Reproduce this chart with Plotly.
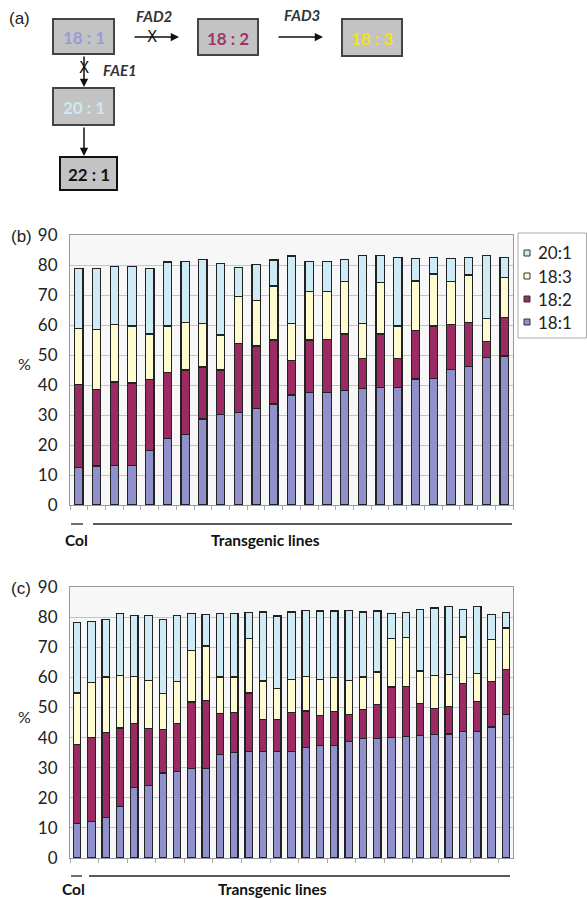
import plotly.graph_objects as go

W, H = 587, 900

# ---------------- data ----------------
series_names = ["18:1", "18:2", "18:3", "20:1"]
series_colors = ["#9090cb", "#9b2b62", "#fdfbcf", "#cdeaf5"]

lines_b = [str(i) for i in range(1, 26)]
b_181 = [12.4, 13.0, 13.3, 13.3, 18.3, 22.2, 23.6, 28.7, 30.2, 30.8, 32.1, 33.7, 36.7,
         37.6, 37.6, 38.1, 38.8, 39.1, 39.1, 42.0, 42.2, 45.3, 46.1, 49.1, 49.7]
b_182 = [27.8, 25.6, 27.7, 27.4, 23.6, 21.9, 21.4, 17.3, 14.8, 23.1, 20.9, 21.3, 11.4,
         17.4, 17.7, 18.9, 10.1, 17.9, 9.8, 16.3, 17.5, 15.0, 14.8, 5.3, 12.7]
b_183 = [18.7, 20.0, 19.2, 19.0, 15.1, 15.6, 15.9, 14.6, 11.7, 15.5, 15.3, 18.0, 12.5,
         16.3, 16.0, 17.4, 11.7, 17.1, 10.8, 16.4, 17.3, 14.1, 15.8, 7.7, 13.5]
b_201 = [20.0, 20.3, 19.2, 19.7, 21.9, 21.3, 20.4, 21.3, 23.9, 9.8, 11.9, 8.7, 22.4,
         10.0, 10.0, 7.5, 22.6, 9.1, 22.9, 7.4, 5.6, 7.7, 5.9, 21.2, 6.7]

lines_c = [str(i) for i in range(1, 32)]
c_181 = [11.5, 12.1, 13.5, 17.2, 23.3, 24.1, 28.2, 28.8, 29.6, 29.6, 34.4, 35.1, 35.5,
         35.5, 35.5, 35.5, 36.8, 37.4, 37.4, 38.8, 39.8, 39.8, 40.1, 40.4, 40.7, 41.0,
         41.2, 42.1, 42.1, 43.5, 47.7]
c_182 = [26.1, 27.8, 28.1, 26.0, 21.5, 18.8, 14.4, 15.8, 22.2, 22.7, 13.7, 13.1, 19.3,
         10.4, 10.4, 12.7, 12.0, 9.9, 11.3, 8.9, 9.4, 11.2, 16.7, 16.6, 10.7, 8.6,
         9.1, 15.8, 10.0, 15.1, 14.9]
c_183 = [17.2, 18.5, 18.5, 17.4, 15.6, 16.1, 11.9, 14.0, 17.2, 18.1, 12.0, 11.9, 18.0,
         12.9, 10.3, 11.2, 11.6, 12.0, 11.2, 11.3, 10.9, 10.8, 16.0, 16.1, 10.7, 11.0,
         10.7, 15.5, 9.3, 13.9, 13.8]
c_201 = [23.4, 20.2, 19.1, 20.6, 20.2, 21.6, 24.7, 22.0, 12.2, 10.5, 21.1, 21.1, 8.7,
         22.9, 24.2, 22.3, 21.9, 22.7, 22.1, 23.3, 21.6, 20.2, 8.4, 8.4, 20.5, 22.4,
         22.4, 9.1, 22.0, 8.3, 5.1]

y_ticks = [0, 10, 20, 30, 40, 50, 60, 70, 80, 90]

FONT = "Lato"


def px(x):
    return x / W


def py(y):
    return 1 - y / H


fig = go.Figure()

for name, color, vals in zip(series_names, series_colors, [b_181, b_182, b_183, b_201]):
    fig.add_trace(go.Bar(x=lines_b, y=vals, name=name, marker_color=color,
                         marker_line=dict(color="#222222", width=1.2), width=0.47,
                         xaxis="x", yaxis="y", showlegend=False))
for name, color, vals in zip(series_names, series_colors, [c_181, c_182, c_183, c_201]):
    fig.add_trace(go.Bar(x=lines_c, y=vals, name=name, marker_color=color,
                         marker_line=dict(color="#222222", width=1.2), width=0.52,
                         xaxis="x2", yaxis="y2", showlegend=False))

xcommon = dict(type="category", showticklabels=False, ticks="outside", tickson="boundaries",
               ticklen=4, tickcolor="#aaaaaa", showline=True, linecolor="#999999",
               mirror=True, showgrid=False, zeroline=False, automargin=False)
ycommon = dict(range=[0, 90], tickvals=y_ticks, showgrid=True, gridcolor="#c4c4c4",
               gridwidth=1, showline=True, linecolor="#999999", mirror=True,
               zeroline=False, ticks="", ticklabelstandoff=8, automargin=False,
               tickfont=dict(family=FONT, size=17, color="#222222"))

fig.update_layout(
    width=W, height=H, margin=dict(l=0, r=0, t=0, b=0, autoexpand=False),
    paper_bgcolor="white", plot_bgcolor="#f7f7f7",
    barmode="stack", showlegend=False,
    xaxis=dict(domain=[px(70), px(513)], anchor="y", range=[-0.5, 24.5], **xcommon),
    yaxis=dict(domain=[py(505), py(235)], anchor="x", **ycommon),
    xaxis2=dict(domain=[px(70), px(513)], anchor="y2", range=[-0.5, 30.5], **xcommon),
    yaxis2=dict(domain=[py(858), py(587)], anchor="x2", **ycommon),
    font=dict(family=FONT),
)

shapes = []
ann = []


def text(x, y, t, size, color, family=FONT, xanchor="center"):
    ann.append(dict(x=px(x), y=py(y), xref="paper", yref="paper", text=t,
                    showarrow=False, xanchor=xanchor, yanchor="middle",
                    font=dict(family=family, size=size, color=color)))


# ---------------- panel (a) diagram ----------------
boxes = [
    (53, 19, 114, 54, "18 : 1", "#9a9ad6", "#444444"),
    (198, 19, 258, 55, "18 : 2", "#a0336a", "#444444"),
    (342, 19, 402, 56, "18 : 3", "#f2e21a", "#444444"),
    (53, 88, 114, 125, "20 : 1", "#cde8f2", "#444444"),
    (60, 157, 117, 190, "22 : 1", "#111111", "#111111"),
]
for x0, y0, x1, y1, label, tcol, bcol in boxes:
    shapes.append(dict(type="rect", xref="paper", yref="paper",
                       x0=px(x0), x1=px(x1), y0=py(y1), y1=py(y0),
                       fillcolor="#c3c3c3", line=dict(color=bcol, width=2)))
    text((x0 + x1) / 2, (y0 + y1) / 2 + 1, "<b>%s</b>" % label, 17, tcol)

arrows = [  # (head_x, head_y, tail_x, tail_y)
    (179, 37, 133, 37),
    (323, 37, 277, 37),
    (84, 87, 84, 55),
    (84, 156, 84, 126),
]
for hx, hy, tx, ty in arrows:
    ann.append(dict(x=px(hx), y=py(hy), xref="paper", yref="paper",
                    ax=tx - hx, ay=ty - hy, axref="pixel", ayref="pixel",
                    showarrow=True, arrowhead=2, arrowsize=1.1, arrowwidth=1.5,
                    arrowcolor="#111111", text=""))

for x, y in [(152, 37), (84, 68)]:
    text(x, y, "X", 15, "#111111", family="DejaVu Sans")

for x, y, t in [(154, 16, "FAD2"), (302, 15, "FAD3"), (120, 70, "FAE1")]:
    text(x, y, "<b><i>%s</i></b>" % t, 15, "#333333")

# ---------------- panel labels ----------------
for x, y, t in [(19, 18, "(a)"), (21, 237, "(b)"), (21, 588, "(c)")]:
    text(x, y, t, 17, "#222222", family="Liberation Sans")

for y in [363, 716]:
    text(24, y, "%", 16, "#222222")

# ---------------- legend for (b) ----------------
shapes.append(dict(type="rect", xref="paper", yref="paper", x0=px(518), x1=px(586.5),
                   y0=py(338), y1=py(233), fillcolor="white",
                   line=dict(color="#aaaaaa", width=1)))
for i, (name, color) in enumerate(zip(series_names[::-1], series_colors[::-1])):
    ly = 253 + i * 23
    shapes.append(dict(type="rect", xref="paper", yref="paper", x0=px(524), x1=px(530),
                       y0=py(ly + 3), y1=py(ly - 3), fillcolor=color,
                       line=dict(color="#333333", width=1)))
    text(536, ly, name, 17, "#222222", xanchor="left")

# ---------------- group bars under x-axes ----------------
for ly, ty, c0, c1, t0, t1, colx, tgx in [
        (524, 540, 71, 83, 93, 512, 76, 265),
        (876, 889, 71, 82, 89, 510, 73, 272)]:
    shapes.append(dict(type="line", xref="paper", yref="paper", x0=px(c0), x1=px(c1),
                       y0=py(ly), y1=py(ly), line=dict(color="#222222", width=1.3)))
    shapes.append(dict(type="line", xref="paper", yref="paper", x0=px(t0), x1=px(t1),
                       y0=py(ly), y1=py(ly), line=dict(color="#222222", width=1.3)))
    text(colx, ty, "<b>Col</b>", 15.5, "#111111")
    text(tgx, ty, "<b>Transgenic lines</b>", 15.5, "#111111")

fig.update_layout(shapes=shapes, annotations=ann)
fig.write_html("out.html", config={"displayModeBar": False},
               post_script="document.body.style.margin='0';document.body.style.overflow='hidden';")
